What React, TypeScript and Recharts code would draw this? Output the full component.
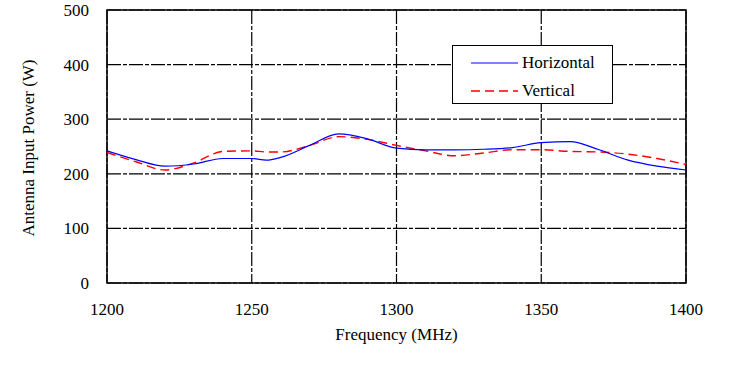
import React from 'react';
import {
  LineChart, Line, XAxis, YAxis, CartesianGrid, ReferenceArea,
} from 'recharts';

const frequencies = [1200, 1210, 1220, 1230, 1240, 1250, 1255, 1260, 1270, 1280, 1290, 1300, 1310, 1320, 1330, 1340, 1350, 1360, 1370, 1380, 1390, 1400];
const horizontal = [242, 226, 214, 218, 228, 228, 225, 230, 252, 273, 264, 247, 244, 244, 245, 248, 257, 259, 244, 225, 214, 207];
const vertical = [239, 222, 207, 220, 241, 242, 240, 240, 252, 268, 263, 252, 242, 233, 238, 244, 244, 241, 240, 236, 228, 217];
const xTicks = [1200, 1250, 1300, 1350, 1400];
const yTicks = [0, 100, 200, 300, 400, 500];

const data = frequencies.map((f, i) => ({ f, horizontal: horizontal[i], vertical: vertical[i] }));

const FONT = '"Liberation Serif", "DejaVu Serif", serif';

function LegendBox() {
  return (
    <div style={{
      position: 'absolute', left: 452, top: 45,
      border: '1.5px solid #000', background: '#fff', width: 161, height: 59,
      fontFamily: FONT, fontSize: 17, color: '#000', boxSizing: 'border-box', paddingTop: 3,
    }}>
      <div style={{ display: 'flex', alignItems: 'center', height: 28 }}>
        <svg width={51} height={10} style={{ marginLeft: 18 }}>
          <line x1={0} y1={5} x2={47} y2={5} stroke="#0000ff" strokeWidth={1.2} />
        </svg>
        <span>Horizontal</span>
      </div>
      <div style={{ display: 'flex', alignItems: 'center', height: 28 }}>
        <svg width={51} height={10} style={{ marginLeft: 18 }}>
          <line x1={0} y1={5} x2={47} y2={5} stroke="#ff0000" strokeWidth={1.4} strokeDasharray="9 5" />
        </svg>
        <span>Vertical</span>
      </div>
    </div>
  );
}

export default function App() {
  return (
    <div style={{ position: 'absolute', left: 0, top: 0, width: 744, height: 376, background: '#fff' }}>
      <LineChart width={744} height={376} data={data} margin={{ top: 10, right: 58, left: 0, bottom: 33 }}>
        <CartesianGrid stroke="#000" strokeWidth={1.2} strokeDasharray="14 2 4 2" />
        <XAxis
          dataKey="f" type="number" domain={[1200, 1400]} ticks={xTicks} height={60}
          tick={{ fontSize: 17, fill: '#000', fontFamily: FONT, dy: 12 }}
          tickLine={false} axisLine={false}
          label={{ value: 'Frequency (MHz)', position: 'insideBottom', offset: 3, fill: '#000', fontSize: 17, fontFamily: FONT }}
        />
        <YAxis
          type="number" domain={[0, 500]} ticks={yTicks} width={107}
          tick={{ fontSize: 17, fill: '#000', fontFamily: FONT, dx: -10 }}
          tickLine={false} axisLine={false}
          label={{ value: 'Antenna Input Power (W)', angle: -90, position: 'insideLeft', offset: 28, dy: 90, fill: '#000', fontSize: 17, fontFamily: FONT }}
        />
        <ReferenceArea x1={1200} x2={1400} y1={0} y2={500} fill="none" stroke="#000" strokeWidth={1.5} ifOverflow="visible" />
        <Line type="monotone" dataKey="vertical" stroke="#ff0000" strokeWidth={1.4} strokeDasharray="9 5" dot={false} isAnimationActive={false} />
        <Line type="monotone" dataKey="horizontal" stroke="#0000ff" strokeWidth={1.2} dot={false} isAnimationActive={false} />
      </LineChart>
      <LegendBox />
    </div>
  );
}
